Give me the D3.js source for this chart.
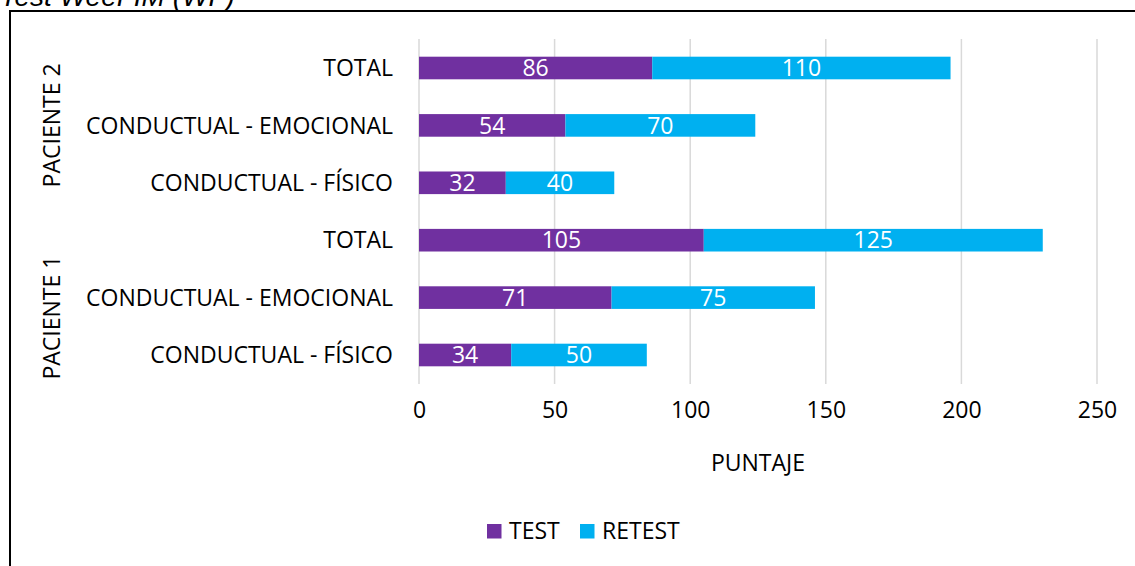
<!DOCTYPE html>
<html>
<head>
<meta charset="utf-8">
<script src="https://cdn.jsdelivr.net/npm/d3@7"></script>
<style>
  html, body { margin: 0; padding: 0; background: #fff; }
  svg { display: block; }
  text { font-family: "Open Sans", sans-serif; }
</style>
</head>
<body>
<svg id="chart" width="1135" height="566"></svg>
<script>
// ---- data ----
const patients = ["PACIENTE 2", "PACIENTE 1"];           // top to bottom
const categories = ["TOTAL", "CONDUCTUAL - EMOCIONAL", "CONDUCTUAL - FÍSICO"]; // top to bottom within group
const testP2 = [86, 54, 32];
const retestP2 = [110, 70, 40];
const testP1 = [105, 71, 34];
const retestP1 = [125, 75, 50];
const seriesNames = ["TEST", "RETEST"];
const seriesColors = ["#7030A0", "#00B0F0"];
const xTicks = [0, 50, 100, 150, 200, 250];
const xTitle = "PUNTAJE";
const docTitle = "Test WeeFIM (WF)";

// build rows
const rows = [];
patients.forEach((p, pi) => {
  const t = pi === 0 ? testP2 : testP1;
  const r = pi === 0 ? retestP2 : retestP1;
  categories.forEach((c, ci) => {
    rows.push({ key: p + "|" + c, patient: p, cat: c, test: t[ci], retest: r[ci] });
  });
});

const svg = d3.select("#chart");

// document title (cut off at top, as in the reference) and frame
svg.append("text")
  .attr("x", 0).attr("y", 6)
  .style("font-family", "'Liberation Sans', Arial, sans-serif")
  .style("font-style", "italic")
  .style("font-size", "28px")
  .attr("fill", "#000")
  .text(docTitle);

svg.append("rect")
  .attr("x", 10).attr("y", 11)
  .attr("width", 1200).attr("height", 700)
  .attr("fill", "none").attr("stroke", "#000").attr("stroke-width", 2);

// scales
const x = d3.scaleLinear().domain([0, 250]).range([419, 1097]);
const pIn = 0.606;
const y = d3.scaleBand().domain(rows.map(d => d.key)).range([39.3, 383.7])
  .paddingInner(pIn).paddingOuter(pIn / 2);

// gridlines
svg.append("g").selectAll("line").data(xTicks).join("line")
  .attr("x1", d => x(d)).attr("x2", d => x(d))
  .attr("y1", 39).attr("y2", 384)
  .attr("stroke", "#D9D9D9").attr("stroke-width", 1.5);

// bars
const stackKeys = ["test", "retest"];
const stacked = d3.stack().keys(stackKeys)(rows);
const barG = svg.append("g");
stacked.forEach((layer, li) => {
  barG.append("g").selectAll("rect").data(layer).join("rect")
    .attr("x", d => x(d[0]))
    .attr("y", d => y(d.data.key))
    .attr("width", d => x(d[1]) - x(d[0]))
    .attr("height", y.bandwidth())
    .attr("fill", seriesColors[li]);
  barG.append("g").selectAll("text").data(layer).join("text")
    .attr("x", d => (x(d[0]) + x(d[1])) / 2)
    .attr("y", d => y(d.data.key) + y.bandwidth() / 2)
    .attr("dy", "0.36em")
    .attr("text-anchor", "middle")
    .attr("fill", "#fff")
    .style("font-size", "23px")
    .text(d => d[1] - d[0]);
});

// category labels
svg.append("g").selectAll("text").data(rows).join("text")
  .attr("x", 393)
  .attr("y", d => y(d.key) + y.bandwidth() / 2)
  .attr("dy", "0.36em")
  .attr("text-anchor", "end")
  .attr("fill", "#000")
  .style("font-size", "23px")
  .text(d => d.cat);

// group labels (rotated)
const groupShift = { "PACIENTE 2": 0, "PACIENTE 1": 20 };
svg.append("g").selectAll("text").data(patients).join("text")
  .attr("transform", p => {
    const keys = rows.filter(r => r.patient === p).map(r => r.key);
    const cy = (y(keys[0]) + y(keys[keys.length - 1]) + y.bandwidth()) / 2 + groupShift[p];
    return `translate(60,${cy}) rotate(-90)`;
  })
  .attr("text-anchor", "middle")
  .attr("fill", "#000")
  .style("font-size", "23px")
  .text(p => p);

// x axis tick labels
const xAxis = d3.axisBottom(x).tickValues(xTicks).tickSize(0).tickPadding(0).tickFormat(d3.format("d"));
const axG = svg.append("g").attr("transform", "translate(0,402)").call(xAxis);
axG.select(".domain").remove();
axG.selectAll("text")
  .attr("fill", "#000")
  .style("font-family", "'Open Sans', sans-serif")
  .style("font-size", "23px");

// axis title
svg.append("text")
  .attr("x", (x.range()[0] + x.range()[1]) / 2)
  .attr("y", 463).attr("dy", "0.36em")
  .attr("text-anchor", "middle")
  .attr("fill", "#000")
  .style("font-size", "23px")
  .text(xTitle);

// legend
const legendX = [487, 580];
const lg = svg.append("g");
seriesNames.forEach((s, i) => {
  lg.append("rect")
    .attr("x", legendX[i]).attr("y", 524)
    .attr("width", 14.5).attr("height", 14.5)
    .attr("fill", seriesColors[i]);
  lg.append("text")
    .attr("x", legendX[i] + 22).attr("y", 531).attr("dy", "0.36em")
    .attr("fill", "#000")
    .style("font-size", "23px")
    .text(s);
});
</script>
</body>
</html>
